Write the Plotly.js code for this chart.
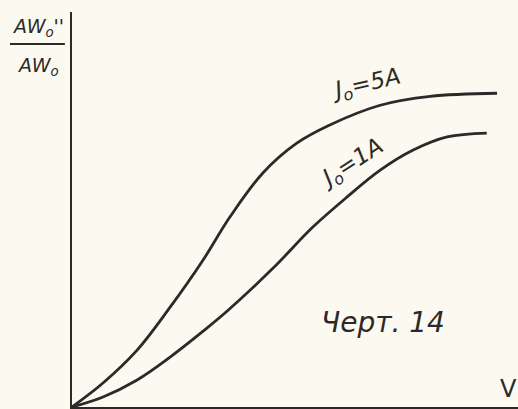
<!DOCTYPE html>
<html>
<head>
<meta charset="utf-8">
<script src="https://cdn.plot.ly/plotly-3.0.1.min.js"></script>
<style>html,body{margin:0;padding:0;background:#fbf9f0;}</style>
</head>
<body>
<div id="chart" style="width:518px;height:409px;"></div>
<script>
// Relative voltage V (arbitrary units, 0..100) and ratio AWo''/AWo (arbitrary units)
const x5A = [0, 6.95, 14.6, 22.0, 29.4, 35.4, 42.8, 50.4, 57.8, 69.1, 80.3, 95.3];
const y5A = [0, 6.2, 14.7, 25.8, 38.0, 49.1, 60.5, 68.2, 72.9, 78.0, 80.3, 81.1];
const x1A = [0, 6.95, 14.6, 22.0, 29.4, 35.0, 45.1, 54.0, 61.7, 69.1, 76.5, 84.1, 93.0];
const y1A = [0, 2.6, 7.0, 12.9, 19.6, 25.0, 35.9, 46.5, 54.3, 61.2, 66.4, 69.8, 70.8];
const seriesNames = ["J<sub>o</sub>=5A", "J<sub>o</sub>=1A"];

const ink = "#2b2a28";

const traces = [
  {x: x5A, y: y5A, mode: "lines", line: {color: ink, width: 2.8, shape: "spline", smoothing: 1}, name: seriesNames[0], hoverinfo: "skip"},
  {x: x1A, y: y1A, mode: "lines", line: {color: ink, width: 2.8, shape: "spline", smoothing: 1}, name: seriesNames[1], hoverinfo: "skip"}
];

function ann(text, x, y, size, angle, italic) {
  return {text: italic ? "<i>" + text + "</i>" : text, x: x, y: y, xref: "paper", yref: "paper",
          xanchor: "center", yanchor: "middle", showarrow: false, textangle: angle || 0,
          font: {family: "DejaVu Sans", size: size, color: ink}};
}

const layout = {
  width: 518, height: 409,
  margin: {l: 72, r: 0, t: 12, b: 2},
  paper_bgcolor: "#fbf9f0",
  plot_bgcolor: "#fbf9f0",
  showlegend: false,
  xaxis: {range: [0, 100], showgrid: false, zeroline: false, showticklabels: false, ticks: "",
          showline: true, linecolor: ink, linewidth: 2.4},
  yaxis: {range: [0, 102.1], showgrid: false, zeroline: false, showticklabels: false, ticks: "",
          showline: true, linecolor: ink, linewidth: 2.4},
  annotations: [
    ann(seriesNames[0], 0.66, 0.815, 23, -13, true),
    ann(seriesNames[1], 0.628, 0.615, 23, -33, true),
    ann("Черт. 14", 0.697, 0.215, 28, 0, true),
    ann("V", 0.978, 0.045, 24, 0, false),
    ann("AW<sub>o</sub>''", -0.076, 0.962, 19, 0, true),
    ann("AW<sub>o</sub>", -0.076, 0.862, 19, 0, true)
  ],
  shapes: [
    {type: "line", xref: "paper", yref: "paper", x0: -0.139, x1: -0.016, y0: 0.919, y1: 0.919,
     line: {color: ink, width: 2}}
  ]
};

Plotly.newPlot("chart", traces, layout, {staticPlot: true, displayModeBar: false});
</script>
</body>
</html>
